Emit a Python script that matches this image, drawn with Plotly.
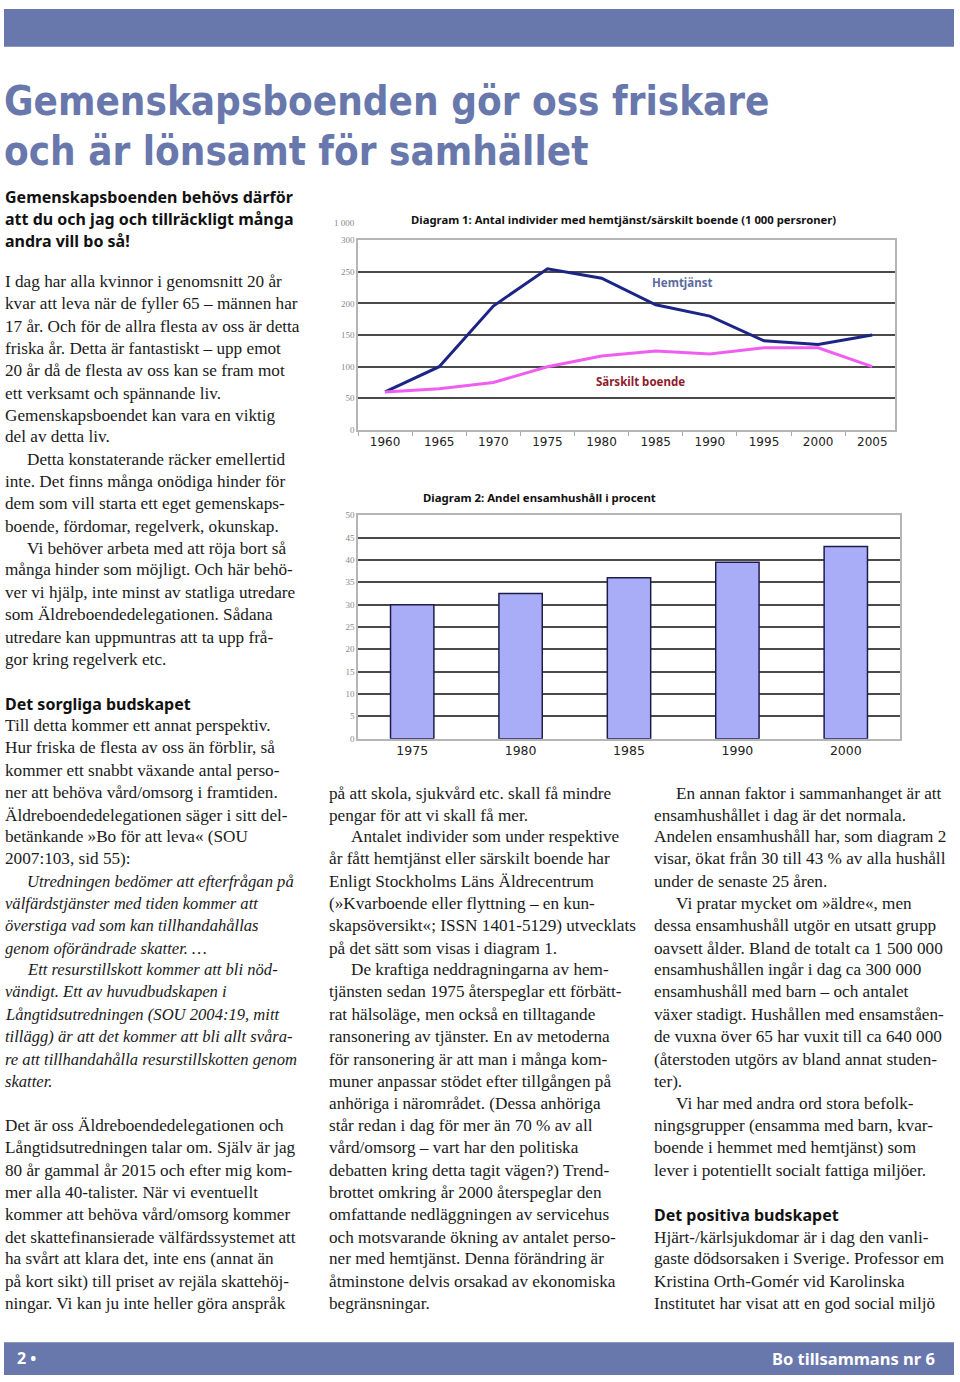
import plotly.graph_objects as go

W, H = 960, 1382

# ---------------- data ----------------
years1 = [1960, 1965, 1970, 1975, 1980, 1985, 1990, 1995, 2000, 2005]
hemtjanst = [60, 100, 196, 255, 240, 198, 180, 141, 135, 150]
sarskilt = [60, 65, 75, 100, 117, 125, 120, 130, 130, 100]
y1_ticks = [0, 50, 100, 150, 200, 250, 300]

years2 = ["1975", "1980", "1985", "1990", "2000"]
ensam = [30, 32.5, 36, 39.5, 43]
y2_ticks = [0, 5, 10, 15, 20, 25, 30, 35, 40, 45, 50]

title_lines = ["Gemenskapsboenden gör oss friskare", "och är lönsamt för samhället"]
lead_lines = ["Gemenskapsboenden behövs därför",
              "att du och jag och tillräckligt många",
              "andra vill bo så!"]

col1 = [
    (280, "I dag har alla kvinnor i genomsnitt 20 år", 0, ""),
    (302, "kvar att leva när de fyller 65 – männen har", 0, ""),
    (325, "17 år. Och för de allra flesta av oss är detta", 0, ""),
    (347, "friska år. Detta är fantastiskt – upp emot", 0, ""),
    (369, "20 år då de flesta av oss kan se fram mot", 0, ""),
    (392, "ett verksamt och spännande liv.", 0, ""),
    (414, "Gemenskapsboendet kan vara en viktig", 0, ""),
    (436, "del av detta liv.", 0, ""),
    (459, "Detta konstaterande räcker emellertid", 1, ""),
    (481, "inte. Det finns många onödiga hinder för", 0, ""),
    (503, "dem som vill starta ett eget gemenskaps-", 0, ""),
    (526, "boende, fördomar, regelverk, okunskap.", 0, ""),
    (548, "Vi behöver arbeta med att röja bort så", 1, ""),
    (570, "många hinder som möjligt. Och här behö-", 0, ""),
    (593, "ver vi hjälp, inte minst av statliga utredare", 0, ""),
    (615, "som Äldreboendedelegationen. Sådana", 0, ""),
    (638, "utredare kan uppmuntras att ta upp frå-", 0, ""),
    (660, "gor kring regelverk etc.", 0, ""),
    (704, "Det sorgliga budskapet", 0, "h"),
    (727, "Till detta kommer ett annat perspektiv.", 0, ""),
    (749, "Hur friska de flesta av oss än förblir, så", 0, ""),
    (772, "kommer ett snabbt växande antal perso-", 0, ""),
    (794, "ner att behöva vård/omsorg i framtiden.", 0, ""),
    (817, "Äldreboendedelegationen säger i sitt del-", 0, ""),
    (839, "betänkande »Bo för att leva« (SOU", 0, ""),
    (861, "2007:103, sid 55):", 0, ""),
    (884, "Utredningen bedömer att efterfrågan på", 1, "i"),
    (906, "välfärdstjänster med tiden kommer att", 0, "i"),
    (928, "överstiga vad som kan tillhandahållas", 0, "i"),
    (951, "genom oförändrade skatter. …", 0, "i"),
    (973, "Ett resurstillskott kommer att bli nöd-", 1, "i"),
    (995, "vändigt. Ett av huvudbudskapen i", 0, "i"),
    (1018, "Långtidsutredningen (SOU 2004:19, mitt", 0, "i"),
    (1040, "tillägg) är att det kommer att bli allt svåra-", 0, "i"),
    (1063, "re att tillhandahålla resurstillskotten genom", 0, "i"),
    (1085, "skatter.", 0, "i"),
    (1130, "Det är oss Äldreboendedelegationen och", 0, ""),
    (1152, "Långtidsutredningen talar om. Själv är jag", 0, ""),
    (1175, "80 år gammal år 2015 och efter mig kom-", 0, ""),
    (1197, "mer alla 40-talister. När vi eventuellt", 0, ""),
    (1219, "kommer att behöva vård/omsorg kommer", 0, ""),
    (1242, "det skattefinansierade välfärdssystemet att", 0, ""),
    (1264, "ha svårt att klara det, inte ens (annat än", 0, ""),
    (1287, "på kort sikt) till priset av rejäla skattehöj-", 0, ""),
    (1309, "ningar. Vi kan ju inte heller göra anspråk", 0, ""),
]

col2 = [
    (795, "på att skola, sjukvård etc. skall få mindre", 0, ""),
    (817, "pengar för att vi skall få mer.", 0, ""),
    (839, "Antalet individer som under respektive", 1, ""),
    (861, "år fått hemtjänst eller särskilt boende har", 0, ""),
    (884, "Enligt Stockholms Läns Äldrecentrum", 0, ""),
    (906, "(»Kvarboende eller flyttning – en kun-", 0, ""),
    (928, "skapsöversikt«; ISSN 1401-5129) utvecklats", 0, ""),
    (951, "på det sätt som visas i diagram 1.", 0, ""),
    (973, "De kraftiga neddragningarna av hem-", 1, ""),
    (995, "tjänsten sedan 1975 återspeglar ett förbätt-", 0, ""),
    (1018, "rat hälsoläge, men också en tilltagande", 0, ""),
    (1040, "ransonering av tjänster. En av metoderna", 0, ""),
    (1063, "för ransonering är att man i många kom-", 0, ""),
    (1085, "muner anpassar stödet efter tillgången på", 0, ""),
    (1108, "anhöriga i närområdet. (Dessa anhöriga", 0, ""),
    (1130, "står redan i dag för mer än 70 % av all", 0, ""),
    (1152, "vård/omsorg – vart har den politiska", 0, ""),
    (1175, "debatten kring detta tagit vägen?) Trend-", 0, ""),
    (1197, "brottet omkring år 2000 återspeglar den", 0, ""),
    (1219, "omfattande nedläggningen av servicehus", 0, ""),
    (1242, "och motsvarande ökning av antalet perso-", 0, ""),
    (1264, "ner med hemtjänst. Denna förändring är", 0, ""),
    (1287, "åtminstone delvis orsakad av ekonomiska", 0, ""),
    (1309, "begränsningar.", 0, ""),
]

col3 = [
    (795, "En annan faktor i sammanhanget är att", 1, ""),
    (817, "ensamhushållet i dag är det normala.", 0, ""),
    (839, "Andelen ensamhushåll har, som diagram 2", 0, ""),
    (861, "visar, ökat från 30 till 43 % av alla hushåll", 0, ""),
    (884, "under de senaste 25 åren.", 0, ""),
    (906, "Vi pratar mycket om »äldre«, men", 1, ""),
    (928, "dessa ensamhushåll utgör en utsatt grupp", 0, ""),
    (951, "oavsett ålder. Bland de totalt ca 1 500 000", 0, ""),
    (973, "ensamhushållen ingår i dag ca 300 000", 0, ""),
    (995, "ensamhushåll med barn – och antalet", 0, ""),
    (1018, "växer stadigt. Hushållen med ensamståen-", 0, ""),
    (1040, "de vuxna över 65 har vuxit till ca 640 000", 0, ""),
    (1063, "(återstoden utgörs av bland annat studen-", 0, ""),
    (1085, "ter).", 0, ""),
    (1108, "Vi har med andra ord stora befolk-", 1, ""),
    (1130, "ningsgrupper (ensamma med barn, kvar-", 0, ""),
    (1152, "boende i hemmet med hemtjänst) som", 0, ""),
    (1175, "lever i potentiellt socialt fattiga miljöer.", 0, ""),
    (1219, "Det positiva budskapet", 0, "h"),
    (1242, "Hjärt-/kärlsjukdomar är i dag den vanli-", 0, ""),
    (1264, "gaste dödsorsaken i Sverige. Professor em", 0, ""),
    (1287, "Kristina Orth-Gomér vid Karolinska", 0, ""),
    (1309, "Institutet har visat att en god social miljö", 0, ""),
]

# ---------------- helpers ----------------
def px(x):
    return x / W

def py(y):
    return 1 - y / H

ACCENT = "#6877ac"
SERIF = "Liberation Serif, DejaVu Serif, serif"
SANS_B = "Noto Sans, DejaVu Sans, sans-serif"

fig = go.Figure()

# Chart 1 lines
fig.add_trace(go.Scatter(x=years1, y=hemtjanst, mode="lines", name="Hemtjänst",
                         line=dict(color="#1c2585", width=3), xaxis="x", yaxis="y",
                         showlegend=False))
fig.add_trace(go.Scatter(x=years1, y=sarskilt, mode="lines", name="Särskilt boende",
                         line=dict(color="#f05ef0", width=3), xaxis="x", yaxis="y",
                         showlegend=False))
# Chart 2 bars
fig.add_trace(go.Bar(x=years2, y=ensam, width=0.4, xaxis="x2", yaxis="y2",
                     marker=dict(color="#a9adf8", line=dict(color="#1d1d4d", width=1.5)),
                     showlegend=False))

annotations = []
shapes = []

# top and bottom bars
shapes.append(dict(type="rect", xref="paper", yref="paper", x0=px(4), x1=px(954),
                   y0=py(42), y1=py(4), fillcolor=ACCENT, line=dict(width=0), layer="below"))
shapes.append(dict(type="rect", xref="paper", yref="paper", x0=px(4), x1=px(954),
                   y0=py(1380), y1=py(1347), fillcolor=ACCENT, line=dict(width=0), layer="below"))

# title
for i, t in enumerate(title_lines):
    annotations.append(dict(text="<b>" + t + "</b>", x=px(2), y=py(97 + 50 * i), xref="paper",
                            yref="paper", xanchor="left", yanchor="middle", showarrow=False,
                            font=dict(family="Liberation Sans Narrow, DejaVu Sans Condensed, sans-serif",
                                      size=40, color=ACCENT)))

# lead
for i, t in enumerate(lead_lines):
    annotations.append(dict(text="<b>" + t + "</b>", x=px(3), y=py(193 + 22.5 * i), xref="paper",
                            yref="paper", xanchor="left", yanchor="middle", showarrow=False,
                            font=dict(family=SANS_B, size=16, color="#111")))

def add_col(lines, x0):
    for (y, t, ind, st) in lines:
        if st == "h":
            annotations.append(dict(text="<b>" + t + "</b>", x=px(x0), y=py(y), xref="paper",
                                    yref="paper", xanchor="left", yanchor="middle", showarrow=False,
                                    font=dict(family=SANS_B, size=16, color="#111")))
            continue
        txt = "<i>" + t + "</i>" if st == "i" else t
        size = 16.6 if st == "i" else 17.2
        annotations.append(dict(text=txt, x=px(x0 + 22 * ind), y=py(y - 1), xref="paper",
                                yref="paper", xanchor="left", yanchor="middle", showarrow=False,
                                font=dict(family=SERIF, size=size, color="#1a1a1a")))

add_col(col1, 3)
add_col(col2, 327)
add_col(col3, 652)

# footer text
annotations.append(dict(text="<b>2 •</b>", x=px(15), y=py(1363), xref="paper", yref="paper",
                        xanchor="left", yanchor="middle", showarrow=False,
                        font=dict(family=SANS_B, size=16, color="white")))
annotations.append(dict(text="<b>Bo tillsammans nr 6</b>", x=px(937), y=py(1363), xref="paper",
                        yref="paper", xanchor="right", yanchor="middle", showarrow=False,
                        font=dict(family=SANS_B, size=16.5, color="white")))

# chart titles and labels
annotations.append(dict(text="<b>Diagram 1: Antal individer med hemtjänst/särskilt boende (1 000 persroner)</b>",
                        x=px(623), y=py(216), xref="paper", yref="paper", xanchor="center",
                        yanchor="middle", showarrow=False,
                        font=dict(family=SANS_B, size=11.3, color="#111")))
annotations.append(dict(text="1 000", x=px(344), y=py(220), xref="paper", yref="paper",
                        xanchor="center", yanchor="middle", showarrow=False,
                        font=dict(family=SERIF, size=9, color="#888")))
annotations.append(dict(text="<b>Hemtjänst</b>", x=1987.4, y=234, xref="x", yref="y",
                        xanchor="center", yanchor="middle", showarrow=False,
                        font=dict(family=SANS_B, size=11.5, color="#5b6aa0")))
annotations.append(dict(text="<b>Särskilt boende</b>", x=1983.6, y=77, xref="x", yref="y",
                        xanchor="center", yanchor="middle", showarrow=False,
                        font=dict(family=SANS_B, size=11.5, color="#8e1b2c")))
annotations.append(dict(text="<b>Diagram 2: Andel ensamhushåll i procent</b>",
                        x=px(539), y=py(496), xref="paper", yref="paper", xanchor="center",
                        yanchor="middle", showarrow=False,
                        font=dict(family=SANS_B, size=11.4, color="#111")))

axis_common_y = dict(showgrid=True, gridcolor="#4a4a4a", gridwidth=1.6, zeroline=False,
                     showline=True, linecolor="#b5b5b5", linewidth=1.5, mirror=True,
                     tickfont=dict(family=SERIF, size=9, color="#888"), ticks="", fixedrange=True)

fig.update_layout(
    width=W, height=H, autosize=False,
    margin=dict(l=0, r=0, t=0, b=0),
    paper_bgcolor="white", plot_bgcolor="white",
    showlegend=False,
    xaxis=dict(domain=[px(358), px(895)], range=[1957.5, 2007.1], anchor="y",
               tickvals=years1, ticktext=[str(v) for v in years1], showgrid=False,
               zeroline=False, showline=True, linecolor="#b5b5b5", linewidth=1.5, mirror=True,
               ticks="", tickfont=dict(family="DejaVu Sans, sans-serif", size=12, color="#222"),
               minor=dict(ticks="outside", tick0=1962.5, dtick=5, ticklen=4, tickcolor="#aaa",
                          showgrid=False),
               fixedrange=True),
    yaxis=dict(domain=[py(428), py(237)], range=[0, 300], anchor="x", tickvals=y1_ticks,
               **axis_common_y),
    xaxis2=dict(domain=[px(358), px(900)], anchor="y2", type="category", showgrid=False,
                zeroline=False, showline=True, linecolor="#b5b5b5", linewidth=1.5, mirror=True,
                ticks="", tickfont=dict(family="DejaVu Sans, sans-serif", size=12.5, color="#222"),
                fixedrange=True),
    yaxis2=dict(domain=[py(739), py(514)], range=[0, 50], anchor="x2", tickvals=y2_ticks,
                **axis_common_y),
    annotations=annotations,
    shapes=shapes,
    bargap=0.6,
)

fig.write_html("out.html", config={"displayModeBar": False},
               post_script="document.body.style.margin='0';document.body.style.padding='0';"
                           "document.documentElement.style.overflow='hidden';")
